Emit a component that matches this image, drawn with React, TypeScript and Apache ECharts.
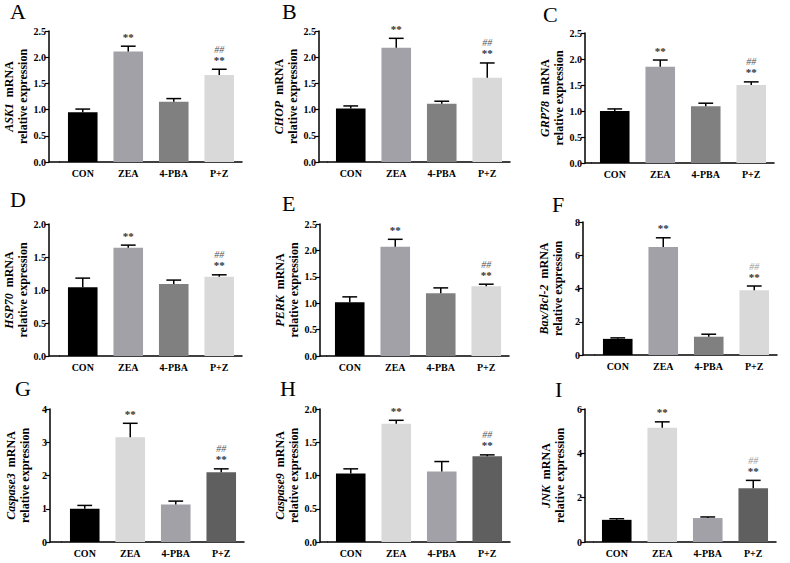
import React, { useEffect, useRef } from 'react';
import * as echarts from 'echarts';

// ---------- DATA ----------
const categories = ['CON', 'ZEA', '4-PBA', 'P+Z'];
const panelLetters = ['A', 'B', 'C', 'D', 'E', 'F', 'G', 'H', 'I'];
const genes = ['ASK1', 'CHOP', 'GRP78', 'HSP70', 'PERK', 'Bax/Bcl-2', 'Caspase3', 'Caspase9', 'JNK'];

const meanASK1 = [0.95, 2.11, 1.15, 1.66];
const semASK1 = [0.06, 0.10, 0.06, 0.11];
const meanCHOP = [1.02, 2.18, 1.11, 1.61];
const semCHOP = [0.05, 0.18, 0.05, 0.28];
const meanGRP78 = [1.0, 1.85, 1.09, 1.5];
const semGRP78 = [0.04, 0.13, 0.06, 0.06];
const meanHSP70 = [1.04, 1.64, 1.09, 1.2];
const semHSP70 = [0.14, 0.04, 0.06, 0.03];
const meanPERK = [1.02, 2.07, 1.19, 1.32];
const semPERK = [0.1, 0.14, 0.1, 0.04];
const meanBaxBcl2 = [0.97, 6.5, 1.1, 3.9];
const semBaxBcl2 = [0.06, 0.55, 0.15, 0.25];
const meanCasp3 = [1.0, 3.15, 1.13, 2.1];
const semCasp3 = [0.1, 0.42, 0.1, 0.1];
const meanCasp9 = [1.03, 1.78, 1.06, 1.29];
const semCasp9 = [0.07, 0.05, 0.15, 0.02];
const meanJNK = [1.0, 5.15, 1.08, 2.42];
const semJNK = [0.05, 0.27, 0.05, 0.36];

const means = [meanASK1, meanCHOP, meanGRP78, meanHSP70, meanPERK, meanBaxBcl2, meanCasp3, meanCasp9, meanJNK];
const sems = [semASK1, semCHOP, semGRP78, semHSP70, semPERK, semBaxBcl2, semCasp3, semCasp9, semJNK];

const yMax = [2.5, 2.5, 2.5, 2.0, 2.5, 8, 4, 2.0, 6];
const yStep = [0.5, 0.5, 0.5, 0.5, 0.5, 2, 1, 0.5, 2];
const yDecimals = [1, 1, 1, 1, 1, 0, 0, 1, 0];

const starMarks = ['', '**', '', '**'];
const hashMarks = ['', '', '', '##'];

// ---------- LAYOUT / STYLE ----------
const gridBoxes = [
  { left: 60, top: 31, bottom: 162, offset: 11 },
  { left: 328, top: 31, bottom: 162, offset: 9 },
  { left: 592, top: 33, bottom: 163, offset: 7 },
  { left: 60, top: 224, bottom: 356, offset: 11 },
  { left: 327, top: 224, bottom: 356, offset: 7 },
  { left: 595, top: 222, bottom: 355, offset: 12 },
  { left: 62, top: 409, bottom: 542, offset: 12 },
  { left: 328, top: 409, bottom: 542, offset: 8 },
  { left: 594, top: 409, bottom: 542, offset: 9 },
];
const gridWidth = 182;
const letterPos = [
  [10, 5], [282, 5], [543, 8],
  [10, 193], [282, 197], [552, 198],
  [15, 382], [280, 382], [555, 383],
];
const paletteTop = ['#000000', '#a1a1a7', '#808080', '#d9d9d9'];
const paletteBottom = ['#000000', '#d9d9d9', '#a1a1a7', '#5f5f5f'];
const hashColors = ['#555', '#555', '#555', '#555', '#555', '#999', '#555', '#555', '#999'];
const FONT = '"Liberation Serif", "Times New Roman", serif';

function buildOption() {
  const grid: any[] = [];
  const xAxis: any[] = [];
  const yAxis: any[] = [];
  const series: any[] = [];
  const graphic: any[] = [];

  for (let p = 0; p < 9; p++) {
    const g = gridBoxes[p];
    const palette = p < 6 ? paletteTop : paletteBottom;
    grid.push({ left: g.left, top: g.top, width: gridWidth, height: g.bottom - g.top });
    xAxis.push({
      type: 'category',
      gridIndex: p,
      data: categories,
      axisLine: { lineStyle: { color: '#000', width: 1.5 } },
      axisTick: { show: false },
      axisLabel: { color: '#000', fontFamily: FONT, fontWeight: 'bold', fontSize: 10, margin: 6, interval: 0 },
    });
    const dec = yDecimals[p];
    yAxis.push({
      type: 'value',
      gridIndex: p,
      min: 0,
      max: yMax[p],
      interval: yStep[p],
      offset: g.offset,
      splitLine: { show: false },
      axisLine: { show: true, lineStyle: { color: '#000', width: 1.5 } },
      axisTick: { show: true, length: 4, lineStyle: { color: '#000', width: 1.2 } },
      axisLabel: {
        color: '#000', fontFamily: FONT, fontWeight: 'bold', fontSize: 10, margin: 3,
        formatter: (v: number) => v.toFixed(dec),
      },
      name: '{g|' + genes[p] + '}  mRNA\nrelative expression',
      nameLocation: 'middle',
      nameRotate: 90,
      nameGap: 18,
      nameTextStyle: {
        color: '#000', fontFamily: FONT, fontWeight: 'bold', fontSize: 12, lineHeight: 14,
        rich: { g: { fontStyle: 'italic', fontWeight: 'bold', fontFamily: FONT, fontSize: 12, color: '#000' } },
      },
    });
    series.push({
      type: 'bar',
      xAxisIndex: p,
      yAxisIndex: p,
      barWidth: '65%',
      data: means[p].map((v, i) => ({ value: v, itemStyle: { color: palette[i] } })),
    });
    const sm = sems[p];
    const hc = hashColors[p];
    series.push({
      type: 'custom',
      xAxisIndex: p,
      yAxisIndex: p,
      z: 3,
      data: means[p].map((v, i) => [i, v, sm[i]]),
      renderItem: (params: any, api: any) => {
        const xi = api.value(0);
        const m = api.value(1);
        const s = api.value(2);
        const base = api.coord([xi, m]);
        const top = api.coord([xi, m + s]);
        const bw = api.size([1, 0])[0] * 0.65;
        const cap = bw * 0.5;
        const children: any[] = [
          { type: 'line', shape: { x1: base[0], y1: base[1], x2: top[0], y2: top[1] }, style: { stroke: '#000', lineWidth: 1.5 } },
          { type: 'line', shape: { x1: top[0] - cap / 2, y1: top[1], x2: top[0] + cap / 2, y2: top[1] }, style: { stroke: '#000', lineWidth: 1.5 } },
        ];
        const idx = params.dataIndex;
        if (starMarks[idx]) {
          children.push({
            type: 'text', x: top[0], y: top[1] - 4,
            style: { text: starMarks[idx], fill: '#333', font: 'bold 11px ' + FONT, align: 'center', verticalAlign: 'bottom' },
          });
        }
        if (hashMarks[idx]) {
          children.push({
            type: 'text', x: top[0], y: top[1] - 15,
            style: { text: hashMarks[idx], fill: hc, font: 'italic 10px ' + FONT, align: 'center', verticalAlign: 'bottom' },
          });
        }
        return { type: 'group', children };
      },
    });
    // short extension of the x axis line to the offset y axis
    graphic.push({
      type: 'line',
      shape: { x1: g.left - g.offset, y1: g.bottom, x2: g.left, y2: g.bottom },
      style: { stroke: '#000', lineWidth: 1.5 },
    });
    graphic.push({
      type: 'text',
      x: letterPos[p][0],
      y: letterPos[p][1] - 5,
      style: { text: panelLetters[p], fill: '#000', font: '22px ' + FONT, verticalAlign: 'top' },
    });
  }

  return { animation: false, backgroundColor: '#fff', grid, xAxis, yAxis, series, graphic };
}

export default function App() {
  const ref = useRef<HTMLDivElement>(null);
  useEffect(() => {
    if (!ref.current) return;
    const chart = echarts.init(ref.current, undefined, { renderer: 'svg' });
    chart.setOption(buildOption() as any);
    return () => chart.dispose();
  }, []);
  return <div ref={ref} style={{ position: 'fixed', left: 0, top: 0, width: 790, height: 563, background: '#fff' }} />;
}
